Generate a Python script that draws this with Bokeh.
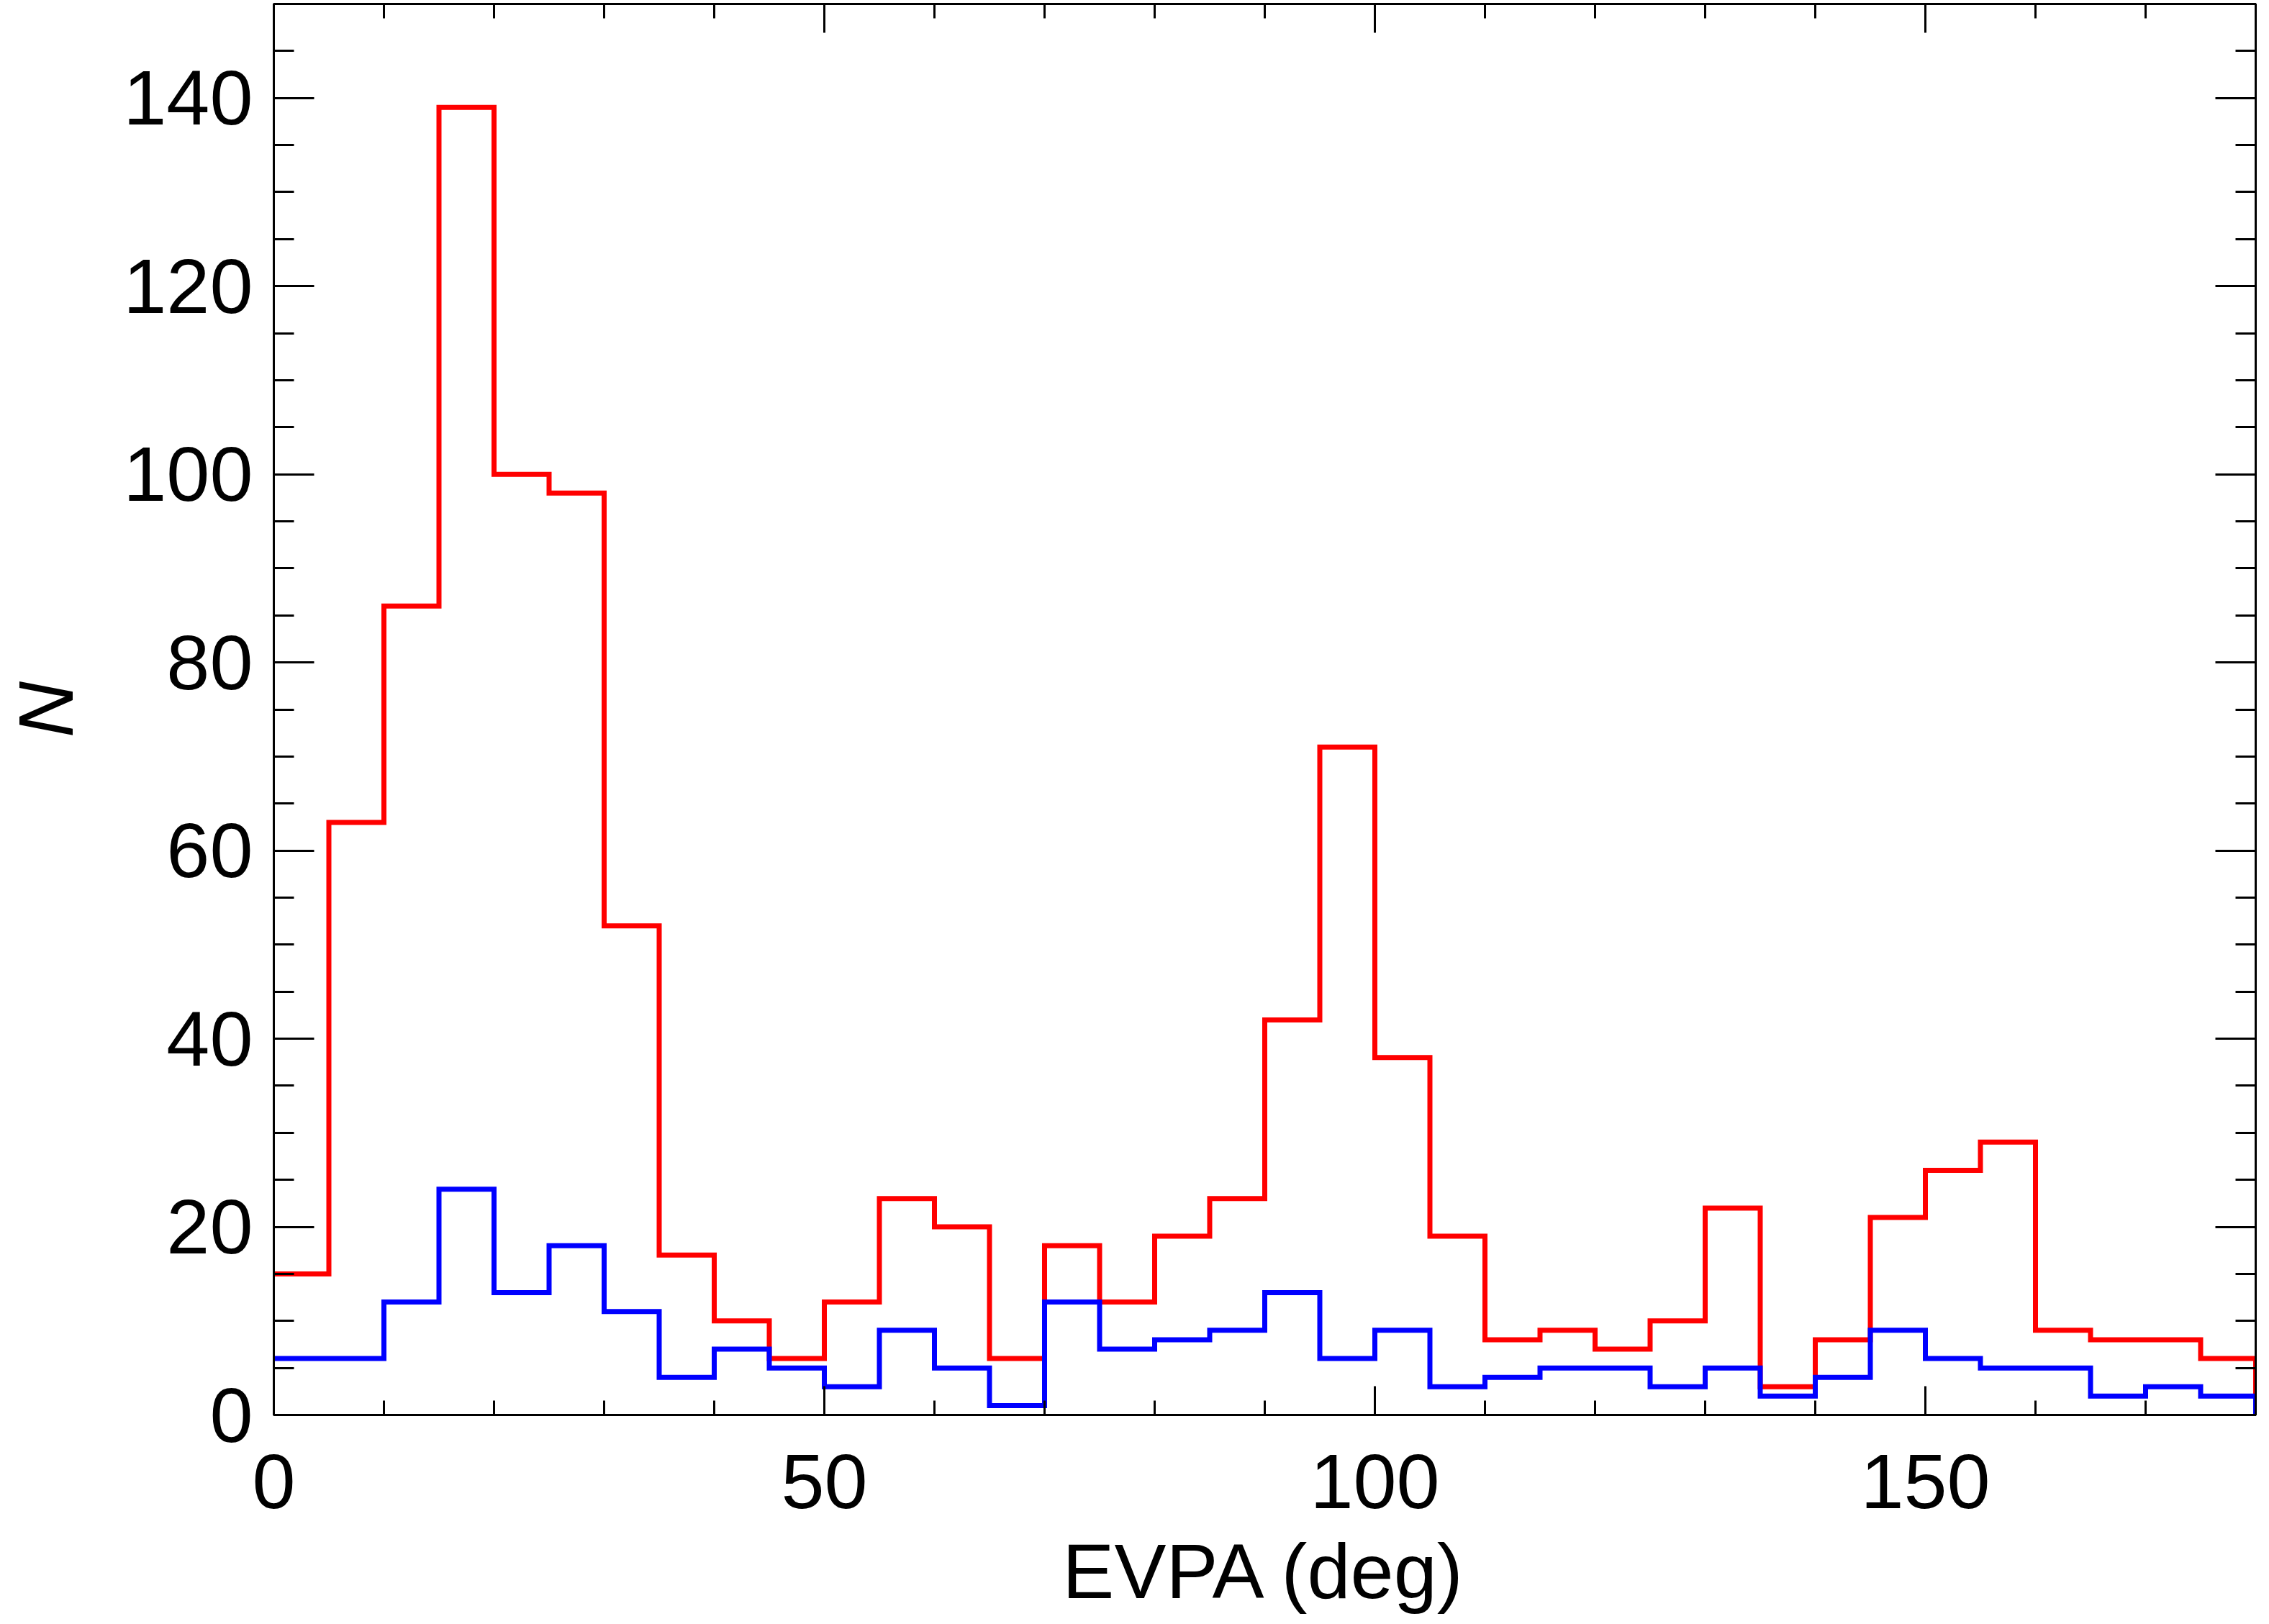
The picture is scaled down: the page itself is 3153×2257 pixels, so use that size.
import numpy as np
from bokeh.plotting import figure
from bokeh.models import (Range1d, LinearAxis, SingleIntervalTicker, CustomJSTickFormatter)
from bokeh.embed import file_html
from bokeh.resources import INLINE

# ---- data ----
bin_edges = list(range(0, 185, 5))  # 0..180 deg, 5 deg bins
red_counts = [15, 63, 86, 139, 100, 98, 52, 17, 10, 6,
              12, 23, 20, 6, 18, 12, 19, 23, 42, 71,
              38, 19, 8, 9, 7, 10, 22, 3, 8, 21,
              26, 29, 9, 8, 8, 6]
blue_counts = [6, 6, 12, 24, 13, 18, 11, 4, 7, 5,
               3, 9, 5, 1, 12, 7, 8, 9, 13, 6,
               9, 3, 4, 5, 5, 3, 5, 2, 4, 9,
               6, 5, 5, 2, 3, 2]
x_ticks = [0, 50, 100, 150]
y_ticks = [0, 20, 40, 60, 80, 100, 120, 140]
x_title = "EVPA (deg)"
y_title = "N"

FONT = "Liberation Sans"
FS = "108px"

def steps(edges, counts):
    e = np.asarray(edges, dtype=float)
    c = np.asarray(counts, dtype=float)
    xs = np.repeat(e, 2)[1:]
    ys = np.append(np.repeat(c, 2), 0.0)
    return xs, ys

p = figure(width=3145, height=2249, output_backend="svg", toolbar_location=None,
           x_range=Range1d(0, 180), y_range=Range1d(0, 150),
           min_border_left=372, min_border_right=11, min_border_top=5, min_border_bottom=283,
           background_fill_color="white", border_fill_color="white")
p.grid.visible = False
p.outline_line_color = "black"
p.outline_line_width = 3

xr, yr = steps(bin_edges, red_counts)
xb, yb = steps(bin_edges, blue_counts)
p.line(xr, yr, line_color="#FF0000", line_width=7, line_join="miter")
p.line(xb, yb, line_color="#0000FF", line_width=7, line_join="miter")

def style_axis(ax, major_len, minor_len, labels=True):
    ax.axis_line_width = 3
    ax.axis_line_color = "black"
    ax.major_tick_line_width = 3
    ax.minor_tick_line_width = 3
    ax.major_tick_in = major_len
    ax.major_tick_out = 0
    ax.minor_tick_in = minor_len
    ax.minor_tick_out = 0
    ax.major_label_text_font = FONT
    ax.major_label_text_font_size = FS
    ax.major_label_text_color = "black"
    ax.axis_label_text_font = FONT
    ax.axis_label_text_font_size = FS
    ax.axis_label_text_color = "black"
    if not labels:
        ax.formatter = CustomJSTickFormatter(code="return ''")
        ax.major_label_standoff = 0
        ax.major_label_text_font_size = "1px"

xa = p.xaxis[0]
xa.ticker = SingleIntervalTicker(interval=50, num_minor_ticks=5)
style_axis(xa, 40, 20)
xa.major_label_standoff = 55
xa.axis_label = x_title
xa.axis_label_text_font_style = "normal"
xa.axis_label_standoff = 24

ya = p.yaxis[0]
ya.ticker = SingleIntervalTicker(interval=20, num_minor_ticks=4)
style_axis(ya, 56, 28)
ya.major_label_standoff = 29
ya.axis_label = y_title
ya.axis_label_text_font_style = "italic"
ya.axis_label_standoff = 44

top = LinearAxis(ticker=SingleIntervalTicker(interval=50, num_minor_ticks=5))
style_axis(top, 40, 20, labels=False)
p.add_layout(top, "above")
right = LinearAxis(ticker=SingleIntervalTicker(interval=20, num_minor_ticks=4))
style_axis(right, 56, 28, labels=False)
p.add_layout(right, "right")

open("out.html", "w").write(file_html(p, INLINE))
